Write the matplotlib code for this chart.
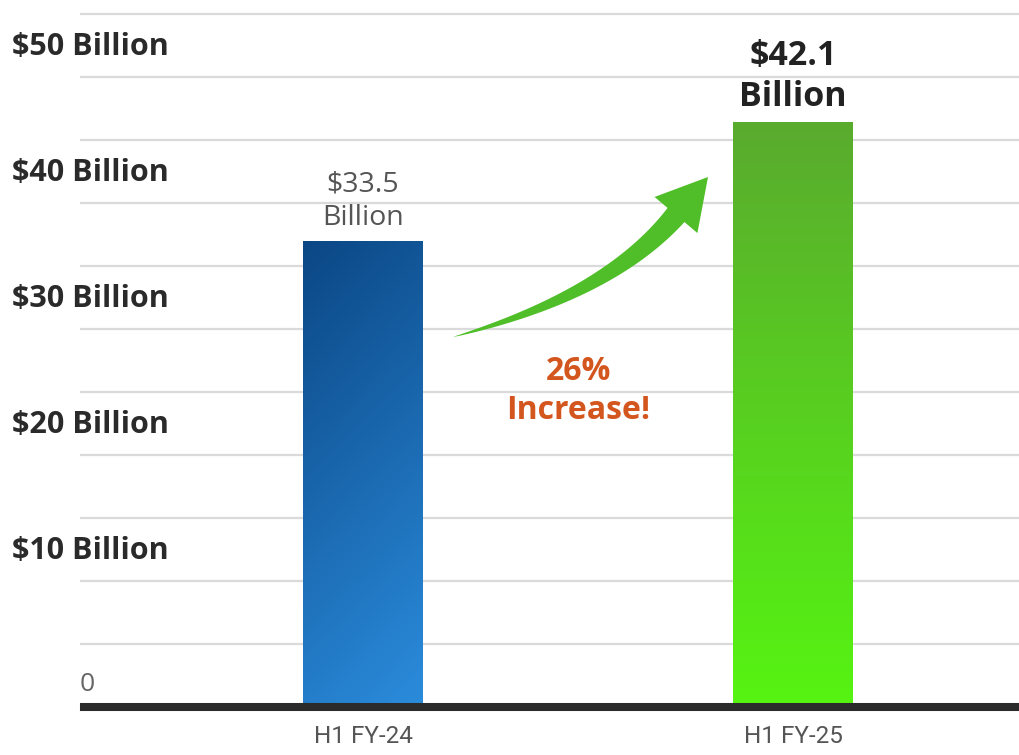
import numpy as np
import matplotlib
matplotlib.use("Agg")
import matplotlib.pyplot as plt
from matplotlib.patches import Polygon
from matplotlib.transforms import IdentityTransform
from matplotlib.colors import LinearSegmentedColormap

# ---- data ----
categories = ["H1 FY-24", "H1 FY-25"]
values = [33.5, 42.1]
value_labels = ["$33.5\nBillion", "$42.1\nBillion"]
ytick_labels = ["$10 Billion", "$20 Billion", "$30 Billion", "$40 Billion", "$50 Billion"]
zero_label = "0"
increase_label = "26%\nIncrease!"

# ---- layout constants ----
W, H = 1019, 755
px_per_unit = 13.9
ymax = 707 / px_per_unit
grid_step = 63 / px_per_unit
n_grid = 11

fig = plt.figure(figsize=(W / 100, H / 100), dpi=100)
ax = fig.add_axes([80 / W, 1 - 707 / H, 939 / W, 707 / H])
ax.set_ylim(0, ymax)
ax.set_xlim(-(363 - 80) / 430, 1 + (1019 - 793) / 430)
for s in ax.spines.values():
    s.set_visible(False)

# gridlines
for k in range(1, n_grid + 1):
    ax.axhline(k * grid_step, color="#dadada", lw=1.6, zorder=0)

# bars with gradients
x = np.arange(len(categories))
bars = ax.bar(x, values, width=120 / 430, color="none", edgecolor="none", zorder=2)
cmaps = [
    LinearSegmentedColormap.from_list("b", ["#2b8cdc", "#0b4785"]),
    LinearSegmentedColormap.from_list("g", ["#56f412", "#5aab2e"]),
]
gy, gx = np.mgrid[0:1:200j, 0:1:50j]
for i, (bar, cm) in enumerate(zip(bars, cmaps)):
    bx, by = bar.get_x(), bar.get_y()
    bw, bh = bar.get_width(), bar.get_height()
    grad = 0.8 * gy + 0.2 * (1 - gx) if i == 0 else gy
    im = ax.imshow(grad, cmap=cm, origin="lower", aspect="auto",
                   extent=[bx, bx + bw, by, by + bh], zorder=2,
                   interpolation="bilinear")
    im.set_clip_path(bar)

# baseline
ax.axhline(0, xmin=4 / 939, color="#2b2b2b", lw=5.8, zorder=5, clip_on=False)

# y tick labels
ax.set_yticks([(2 * k + 2.5) * grid_step + 2 / px_per_unit for k in range(5)])
ax.set_yticklabels(ytick_labels, fontsize=22, fontweight="bold",
                   color="#2a2a2a", family="Open Sans")
ax.tick_params(axis="y", length=0, pad=68 * 0.72)
for lab in ax.get_yticklabels():
    lab.set_horizontalalignment("left")
ax.text(0, 0.5 * grid_step - 9 / px_per_unit, zero_label, transform=ax.get_yaxis_transform(),
        ha="left", va="center", fontsize=19, color="#666666", family="Open Sans")

# x tick labels
ax.set_xticks(x)
ax.set_xticklabels(categories, fontsize=17.5, color="#555555", family="Roboto")
ax.tick_params(axis="x", length=0, pad=13)

# value labels
ax.text(x[0], values[0] + 9 / px_per_unit, value_labels[0], ha="center", va="bottom",
        fontsize=20.5, color="#555555", family="Open Sans", linespacing=1.3, zorder=6)
ax.text(x[1], values[1] + 8 / px_per_unit, value_labels[1], ha="center", va="bottom",
        fontsize=24.5, fontweight="bold", color="#222222", family="Open Sans",
        linespacing=1.28, zorder=6)

# increase annotation
ax.text((578 - 363) / 430, (707 - 391) / px_per_unit, increase_label, ha="center",
        va="center", fontsize=23, fontweight="bold", color="#d4561f",
        family="Open Sans", linespacing=1.22, zorder=6)

# curved, tapering arrow (built in display space from data anchors)
def to_disp(xd, yd):
    return ax.transData.transform((xd, yd))

p0 = to_disp((453 - 363) / 430, (707 - 337) / px_per_unit)
pc = to_disp((609 - 363) / 430, (707 - 295) / px_per_unit)
p2 = to_disp((676 - 363) / 430, (707 - 215) / px_per_unit)
tip = to_disp((708 - 363) / 430, (707 - 177) / px_per_unit)

t = np.linspace(0, 1, 80)[:, None]
curve = (1 - t) ** 2 * p0 + 2 * (1 - t) * t * pc + t ** 2 * p2
deriv = 2 * (1 - t) * (pc - p0) + 2 * t * (p2 - pc)
tang = deriv / np.linalg.norm(deriv, axis=1, keepdims=True)
norm = np.column_stack([-tang[:, 1], tang[:, 0]])
half_w = (22 / 2) * t[:, 0] ** 0.8
left = curve + norm * half_w[:, None]
right = curve - norm * half_w[:, None]
hd = tip - p2
hd = hd / np.linalg.norm(hd)
hn = np.array([-hd[1], hd[0]])
head_l = p2 + hn * 28
head_r = p2 - hn * 28
pts = np.vstack([left, head_l, tip, head_r, right[::-1]])
ax.add_patch(Polygon(pts, closed=True, transform=IdentityTransform(),
                     facecolor="#4fbe28", edgecolor="none", zorder=6))

fig.savefig("out.png", dpi=100, facecolor="white")
